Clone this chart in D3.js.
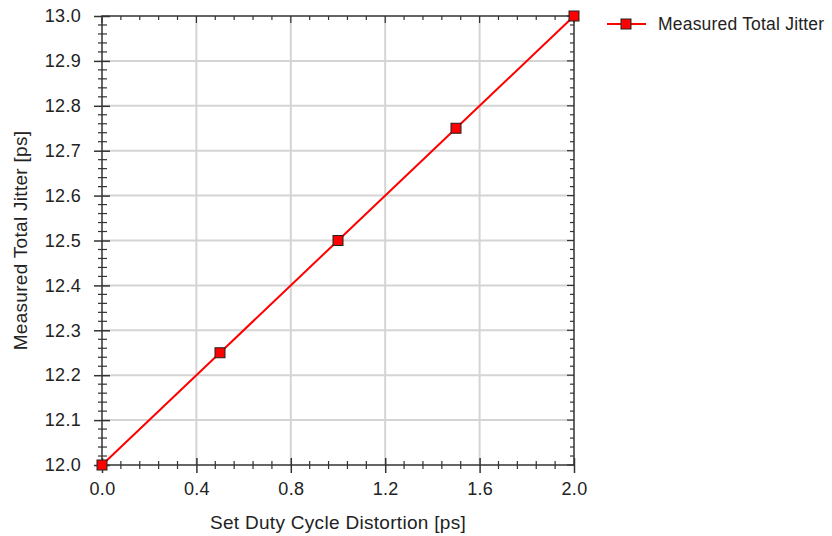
<!DOCTYPE html>
<html>
<head>
<meta charset="utf-8">
<script src="https://cdn.jsdelivr.net/npm/d3@7"></script>
<style>
  body { margin: 0; background: #fff; }
  text { font-family: "Liberation Sans", Arial, sans-serif; fill: #222; }
</style>
</head>
<body>
<div id="chart"></div>
<script>
// data
const dutyCycle = [0.0, 0.5, 1.0, 1.5, 2.0];
const totalJitter = [12.0, 12.25, 12.5, 12.75, 13.0];
const xTicks = [0.0, 0.4, 0.8, 1.2, 1.6, 2.0];
const yTicks = [12.0, 12.1, 12.2, 12.3, 12.4, 12.5, 12.6, 12.7, 12.8, 12.9, 13.0];
const seriesName = 'Measured Total Jitter';

let margin = {top: 16, right: 258, bottom: 71, left: 102}
  , width = 832 - margin.left - margin.right
  , height = 536 - margin.top - margin.bottom;

let x = d3.scaleLinear().domain([0, 2]).range([margin.left, margin.left + width]);
let y = d3.scaleLinear().domain([12, 13]).range([margin.top + height, margin.top]);

let svg = d3.select('#chart').append('svg')
  .attr('width', 832).attr('height', 536);

// gridlines
svg.append('g').selectAll('line')
  .data(xTicks.filter(d => d > 0 && d < 2))
  .enter().append('line')
  .attr('x1', d => x(d)).attr('x2', d => x(d))
  .attr('y1', y(12)).attr('y2', y(13))
  .attr('stroke', '#d4d4d4').attr('stroke-width', 2);
svg.append('g').selectAll('line')
  .data(yTicks.filter(d => d > 12 && d < 13))
  .enter().append('line')
  .attr('x1', x(0)).attr('x2', x(2))
  .attr('y1', d => y(d)).attr('y2', d => y(d))
  .attr('stroke', '#d4d4d4').attr('stroke-width', 2);

// minor tick positions (4 between each major)
let xMinor = d3.range(1, 25).map(i => +(i * 0.08).toFixed(2)).filter(d => Math.abs(d / 0.4 - Math.round(d / 0.4)) > 1e-6);
let yMinor = d3.range(1, 50).map(i => +(12 + i * 0.02).toFixed(2)).filter(d => Math.abs((d - 12) / 0.1 - Math.round((d - 12) / 0.1)) > 1e-6);

const axisColor = '#333';

// frame
svg.append('rect')
  .attr('x', x(0)).attr('y', y(13))
  .attr('width', x(2) - x(0)).attr('height', y(12) - y(13))
  .attr('fill', 'none').attr('stroke', axisColor).attr('stroke-width', 1.5);

// bottom axis
let xAxis = d3.axisBottom(x).tickValues(xTicks).tickFormat(d3.format('.1f'))
  .tickSize(8).tickPadding(9);
let xAxisGroup = svg.append('g')
  .attr('transform', 'translate(0,' + y(12) + ')')
  .call(xAxis);
xAxisGroup.select('.domain').remove();
xAxisGroup.selectAll('.tick line').attr('y1', -7).attr('stroke', axisColor).attr('stroke-width', 1.5);
xAxisGroup.selectAll('text').style('font-size', '18px').style('letter-spacing', '0.3px').attr('fill', '#222');
xAxisGroup.selectAll('.minor').data(xMinor).enter().append('line')
  .attr('class', 'minor')
  .attr('x1', d => x(d)).attr('x2', d => x(d))
  .attr('y1', -4).attr('y2', 4)
  .attr('stroke', axisColor).attr('stroke-width', 1.2);

// left axis
let yAxis = d3.axisLeft(y).tickValues(yTicks).tickFormat(d3.format('.1f'))
  .tickSize(8).tickPadding(13);
let yAxisGroup = svg.append('g')
  .attr('transform', 'translate(' + x(0) + ',0)')
  .call(yAxis);
yAxisGroup.select('.domain').remove();
yAxisGroup.selectAll('.tick line').attr('x1', 8).attr('stroke', axisColor).attr('stroke-width', 1.5);
yAxisGroup.selectAll('text').style('font-size', '18px').style('letter-spacing', '0.3px').attr('fill', '#222');
yAxisGroup.selectAll('.minor').data(yMinor).enter().append('line')
  .attr('class', 'minor')
  .attr('y1', d => y(d)).attr('y2', d => y(d))
  .attr('x1', -4).attr('x2', 5)
  .attr('stroke', axisColor).attr('stroke-width', 1.2);

// top and right ticks (inward)
svg.append('g').selectAll('line')
  .data(xMinor.concat(xTicks))
  .enter().append('line')
  .attr('x1', d => x(d)).attr('x2', d => x(d))
  .attr('y1', y(13)).attr('y2', d => y(13) + (xTicks.includes(d) ? 7 : 4))
  .attr('stroke', axisColor).attr('stroke-width', 1.2);
svg.append('g').selectAll('line')
  .data(yMinor.concat(yTicks))
  .enter().append('line')
  .attr('y1', d => y(d)).attr('y2', d => y(d))
  .attr('x1', x(2)).attr('x2', d => x(2) - (yTicks.includes(d) ? 7 : 4))
  .attr('stroke', axisColor).attr('stroke-width', 1.2);

// axis titles
svg.append('text')
  .attr('x', margin.left + width / 2).attr('y', 529)
  .attr('text-anchor', 'middle').style('font-size', '19px').style('letter-spacing', '0.3px')
  .text('Set Duty Cycle Distortion [ps]');
svg.append('text')
  .attr('transform', 'translate(27,' + (margin.top + height / 2) + ') rotate(-90)')
  .attr('text-anchor', 'middle').style('font-size', '19px').style('letter-spacing', '0.3px')
  .text('Measured Total Jitter [ps]');

// series
let points = dutyCycle.map((d, i) => [d, totalJitter[i]]);
let line = d3.line().x(d => x(d[0])).y(d => y(d[1]));
svg.append('path')
  .datum(points)
  .attr('d', line)
  .attr('fill', 'none').attr('stroke', '#ff0000').attr('stroke-width', 2);

svg.selectAll('rect.marker')
  .data(points)
  .enter().append('rect')
  .attr('class', 'marker')
  .attr('x', d => x(d[0]) - 5).attr('y', d => y(d[1]) - 5)
  .attr('width', 10).attr('height', 10)
  .attr('fill', '#ff0000').attr('stroke', '#222').attr('stroke-width', 1);

// legend
let legend = svg.append('g').attr('transform', 'translate(607,24)');
legend.append('line').attr('x1', 0).attr('x2', 39).attr('y1', 0).attr('y2', 0)
  .attr('stroke', '#ff0000').attr('stroke-width', 2);
legend.append('rect').attr('x', 14).attr('y', -5).attr('width', 10).attr('height', 10)
  .attr('fill', '#ff0000').attr('stroke', '#222').attr('stroke-width', 1);
legend.append('text').attr('x', 51).attr('y', 6).style('font-size', '17.5px').style('letter-spacing', '0.2px')
  .text(seriesName);
</script>
</body>
</html>
